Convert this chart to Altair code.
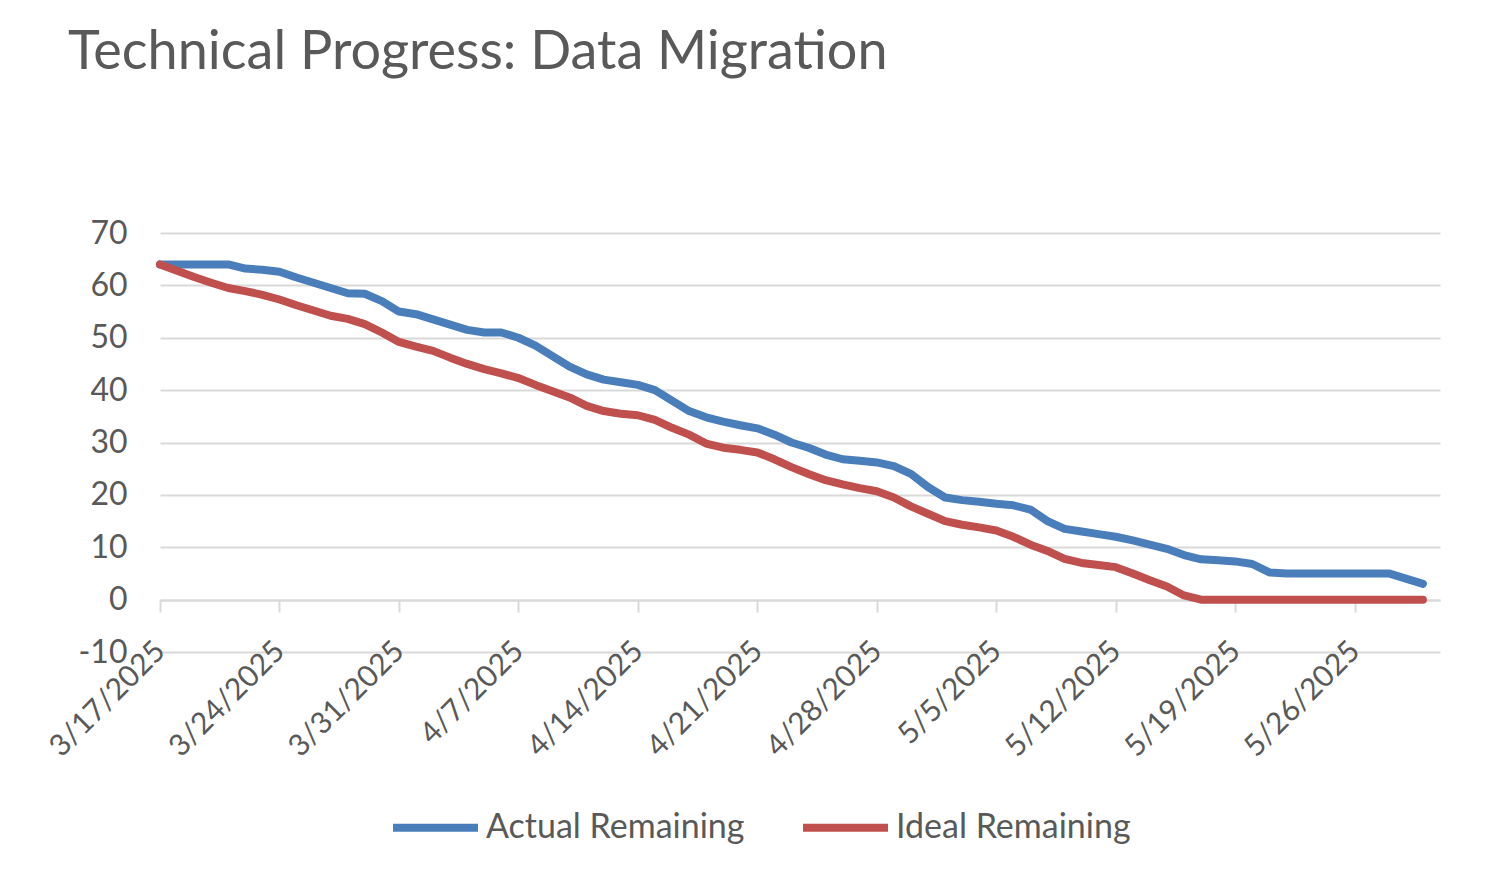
import altair as alt
import pandas as pd

# ---- data ----
start_date = "2025-03-17"
actual_remaining = [
    64, 64, 64, 64, 64, 63.2, 63, 62.6, 61.5, 60.5,
    59.5, 58.5, 58.4, 57, 55, 54.5, 53.5, 52.5, 51.5, 51,
    51, 50, 48.5, 46.5, 44.5, 43, 42, 41.5, 41, 40,
    38, 36, 34.8, 34, 33.3, 32.7, 31.5, 30, 29, 27.7,
    26.8, 26.5, 26.2, 25.5, 24, 21.5, 19.5, 19, 18.7, 18.3,
    18, 17.2, 15, 13.5, 13, 12.5, 12, 11.3, 10.5, 9.7,
    8.5, 7.7, 7.5, 7.3, 6.8, 5.2, 5, 5, 5, 5,
    5, 5, 5, 4, 3,
]
ideal_remaining = [
    64, 62.8, 61.6, 60.5, 59.5, 58.9, 58.2, 57.3, 56.2, 55.2,
    54.2, 53.6, 52.6, 51, 49.2, 48.3, 47.5, 46.2, 45, 44,
    43.2, 42.3, 41, 39.8, 38.6, 37, 36, 35.5, 35.2, 34.3,
    32.8, 31.5, 29.8, 29, 28.6, 28.1, 26.8, 25.3, 24, 22.8,
    22, 21.3, 20.7, 19.5, 17.8, 16.4, 15, 14.3, 13.8, 13.2,
    12, 10.5, 9.3, 7.8, 7, 6.6, 6.2, 5, 3.7, 2.5,
    0.8, 0, 0, 0, 0, 0, 0, 0, 0, 0,
    0, 0, 0, 0, 0,
]
series_names = ["Actual Remaining", "Ideal Remaining"]
series_colors = ["#4a7ebb", "#c0504d"]
tick_dates = [(3, 17), (3, 24), (3, 31), (4, 7), (4, 14), (4, 21),
              (4, 28), (5, 5), (5, 12), (5, 19), (5, 26)]
y_ticks = [-10, 0, 10, 20, 30, 40, 50, 60, 70]

dates = pd.date_range(start_date, periods=len(actual_remaining), freq="D")
df = pd.concat([
    pd.DataFrame({"date": dates.strftime("%Y-%m-%dT00:00:00"),
                  "value": actual_remaining, "series": series_names[0]}),
    pd.DataFrame({"date": dates.strftime("%Y-%m-%dT00:00:00"),
                  "value": ideal_remaining, "series": series_names[1]}),
])

FONT = "Lato"
TXT = "#595959"
GRID = "#d9d9d9"

x_values = [alt.DateTime(year=2025, month=m, date=d) for m, d in tick_dates]

chart = alt.Chart(df).mark_line(strokeWidth=8, strokeCap="round", strokeJoin="round").encode(
    x=alt.X("date:T",
            scale=alt.Scale(domain=[alt.DateTime(year=2025, month=3, date=17),
                                    alt.DateTime(year=2025, month=5, date=31)]),
            axis=alt.Axis(values=x_values, format="%-m/%-d/%Y", title=None,
                          labelAngle=-45, labelAlign="right", labelBaseline="middle",
                          labelFont=FONT, labelFontSize=30, labelColor=TXT,
                          labelPadding=34, offset=-52, domainColor=GRID, domainWidth=2,
                          tickColor=GRID, tickWidth=2, tickSize=12, grid=False,
                          labelOverlap=False)),
    y=alt.Y("value:Q",
            scale=alt.Scale(domain=[-10, 70], nice=False, zero=False),
            axis=alt.Axis(values=y_ticks, title=None, domain=False, ticks=False,
                          labelExpr="'' + datum.value",
                          labelFont=FONT, labelFontSize=32, labelColor=TXT,
                          labelPadding=33, gridColor=GRID, gridWidth=2)),
    color=alt.Color("series:N",
                    scale=alt.Scale(domain=series_names, range=series_colors),
                    legend=alt.Legend(title=None, orient="none", direction="horizontal",
                                      legendX=229, legendY=548,
                                      symbolType="stroke", symbolStrokeWidth=8,
                                      symbolSize=7225, labelFont=FONT, labelFontSize=34,
                                      labelColor=TXT, labelOffset=4, columnPadding=42,
                                      labelLimit=0)),
).properties(
    width=1280,
    height=419,
    title=alt.TitleParams("Technical Progress: Data Migration", anchor="start",
                          frame="group", font=FONT, fontSize=54, fontWeight="normal",
                          color=TXT, dx=-92, offset=137),
    autosize=alt.AutoSizeParams(type="none"),
    padding={"left": 152, "top": 225, "right": 39, "bottom": 215},
).configure(background="white").configure_view(stroke=None)

chart.save("out.html", embed_options={"renderer": "svg", "actions": False})
